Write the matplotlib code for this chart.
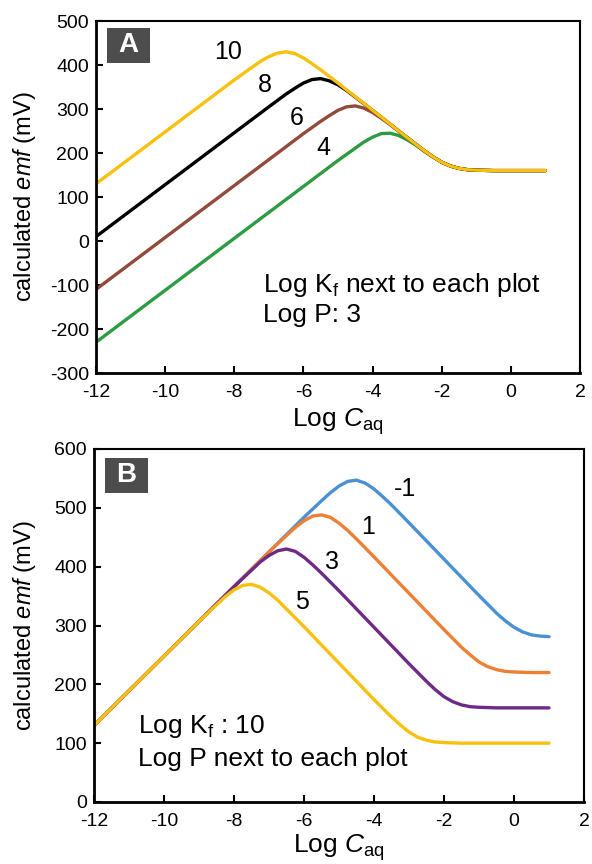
import matplotlib
matplotlib.use("Agg")
import matplotlib.pyplot as plt
from matplotlib.patches import Rectangle

plt.rcParams['font.family'] = ['Liberation Sans', 'DejaVu Sans']
plt.rcParams['mathtext.fontset'] = 'custom'
plt.rcParams['mathtext.rm'] = 'Liberation Sans'
plt.rcParams['mathtext.it'] = 'Liberation Sans:italic'
plt.rcParams['axes.unicode_minus'] = False

# ---- panel A: log Kf varies, log P = 3
a_x10 = [-12, -8.0, -7.5, -7.25, -7.0, -6.75, -6.5, -6.25, -6.0, -5.75, -5.5, -5.0,
         -3.0, -2.75, -2.5, -2.25, -2.0, -1.75, -1.5, -1.25, -1.0, -0.5, 0, 1]
a_y10 = [130, 366, 394, 408, 419, 427, 430, 426, 416, 403, 389, 359,
         235, 220, 205, 191, 179, 170.5, 165, 162, 161, 160, 160, 160]
a_x8 = [-12, -7.0, -6.5, -6.25, -6.0, -5.75, -5.5, -5.25, -5.0, -4.75, -4.5, -4.0,
        -3.0, -2.75, -2.5, -2.25, -2.0, -1.75, -1.5, -1.25, -1.0, -0.5, 0, 1]
a_y8 = [10, 305, 334, 347, 359, 367, 369, 364, 355, 342, 327, 297,
        235, 220, 205, 191, 179, 170.5, 165, 162, 161, 160, 160, 160]
a_x6 = [-12, -6.0, -5.5, -5.25, -5.0, -4.75, -4.5, -4.25, -4.0, -3.75, -3.5, -3.0,
        -2.75, -2.5, -2.25, -2.0, -1.75, -1.5, -1.25, -1.0, -0.5, 0, 1]
a_y6 = [-110, 244, 272, 285, 297, 305, 307, 302, 292, 279, 265, 235,
        220, 205, 191, 179, 170.5, 165, 162, 161, 160, 160, 160]
a_x4 = [-12, -5.0, -4.5, -4.25, -4.0, -3.75, -3.5, -3.25, -3.0, -2.75, -2.5,
        -2.25, -2.0, -1.75, -1.5, -1.25, -1.0, -0.5, 0, 1]
a_y4 = [-230, 183, 211, 225, 236, 244, 245, 240, 230, 218, 203.5,
        191, 179, 170.5, 165, 162, 161, 160, 160, 160]

a_series = [(a_x4, a_y4, '#2E9A42', '4'), (a_x6, a_y6, '#944A3B', '6'),
            (a_x8, a_y8, '#000000', '8'), (a_x10, a_y10, '#F9C00F', '10')]
a_label_pos = {'10': (-8.18, 430), '8': (-7.11, 355), '6': (-6.19, 280), '4': (-5.43, 211)}

# ---- panel B: log Kf = 10, log P varies
b_xm1 = [-12, -6.0, -5.5, -5.25, -5.0, -4.75, -4.5, -4.25, -4.0, -3.75, -3.5, -3.0,
         -1.0, -0.75, -0.5, -0.25, 0, 0.25, 0.5, 0.75, 1.0]
b_ym1 = [130, 484, 512, 525.5, 537, 545, 547, 542, 532, 519, 505, 474.6,
         351, 336, 321, 308, 297, 289, 284, 282, 281]
b_x1 = [-12, -7.0, -6.5, -6.25, -6.0, -5.75, -5.5, -5.25, -5.0, -4.75, -4.5, -4.0,
        -2.0, -1.75, -1.5, -1.25, -1.0, -0.75, -0.5, -0.25, 0, 0.5, 1]
b_y1 = [130, 425, 453, 466.5, 478, 486, 488, 484, 474, 461.5, 447, 416.6,
        293, 278, 263, 250, 238, 230, 225, 222, 221, 220, 220]
b_x3 = a_x10
b_y3 = a_y10
b_x5 = [-12, -9.0, -8.5, -8.25, -8.0, -7.75, -7.5, -7.25, -7.0, -6.75, -6.5, -6.0,
        -4.0, -3.75, -3.5, -3.25, -3.0, -2.75, -2.5, -2.25, -2.0, -1.5, 1]
b_y5 = [130, 307, 335, 349, 360.5, 368, 370, 365, 355.5, 343, 328, 298,
        174, 159, 144.5, 131, 119, 110, 105, 102, 101, 100, 100]

b_series = [(b_xm1, b_ym1, '#4A90D2', '-1'), (b_x1, b_y1, '#EE8035', '1'),
            (b_x3, b_y3, '#6E2A86', '3'), (b_x5, b_y5, '#F9C00F', '5')]
b_label_pos = {'-1': (-3.11, 532), '1': (-4.17, 467), '3': (-5.2, 408), '5': (-6.06, 340)}

xticks = [-12, -10, -8, -6, -4, -2, 0, 2]

fig = plt.figure(figsize=(5.92, 8.64), dpi=100)
axA = fig.add_axes([96 / 592, 1 - 373 / 864, 484 / 592, 352 / 864])
axB = fig.add_axes([94 / 592, 1 - 802 / 864, 490 / 592, 353 / 864])


def style(ax, ylim, yticks):
    ax.set_xlim(-12, 2)
    ax.set_ylim(*ylim)
    ax.set_xticks(xticks)
    ax.set_yticks(yticks)
    ax.tick_params(direction='in', length=5, width=1.5, labelsize=14,
                   top=False, right=False)
    ax.tick_params(axis='x', pad=8)
    ax.tick_params(axis='y', pad=5)
    for s in ['left', 'bottom']:
        ax.spines[s].set_linewidth(2.0)
    for s in ['top', 'right']:
        ax.spines[s].set_linewidth(1.5)
    ax.set_xlabel(r'Log $\mathit{C}_{\mathrm{aq}}$', fontsize=19)
    ax.set_ylabel(r'calculated $\mathit{emf}$ (mV)', fontsize=17)


def panel_tag(ax, x0, y0, w, h, letter):
    ax.add_patch(Rectangle((x0, y0), w, h, transform=ax.transAxes,
                           facecolor='#4D4D4D', edgecolor='none', zorder=5))
    ax.text(x0 + w / 2, y0 + h / 2, letter, transform=ax.transAxes, color='white',
            fontsize=20, fontweight='bold', ha='center', va='center', zorder=6)


for x, y, c, lab in a_series:
    axA.plot(x, y, color=c, lw=2.4, solid_capstyle='round', solid_joinstyle='round')
    axA.text(*a_label_pos[lab], lab, fontsize=18, ha='center', va='center')
style(axA, (-300, 500), list(range(-300, 501, 100)))
axA.xaxis.set_label_coords(0.5, -0.095)
axA.yaxis.set_label_coords(-0.12, 0.5)
panel_tag(axA, 0.0227, 0.881, 0.0888, 0.0994, 'A')
axA.text(-7.17, -115, r'Log K$_\mathregular{f}$ next to each plot', fontsize=19)
axA.text(-7.17, -183, 'Log P: 3', fontsize=19)

for x, y, c, lab in b_series:
    axB.plot(x, y, color=c, lw=2.4, solid_capstyle='round', solid_joinstyle='round')
    axB.text(*b_label_pos[lab], lab, fontsize=18, ha='center', va='center')
style(axB, (0, 600), list(range(0, 601, 100)))
axB.xaxis.set_label_coords(0.5, -0.086)
axB.yaxis.set_label_coords(-0.115, 0.5)
panel_tag(axB, 0.0224, 0.8754, 0.0878, 0.0991, 'B')
axB.text(-10.74, 117, r'Log K$_\mathregular{f}$ : 10', fontsize=19)
axB.text(-10.74, 62, 'Log P next to each plot', fontsize=19)

fig.savefig('out.png', dpi=100)
